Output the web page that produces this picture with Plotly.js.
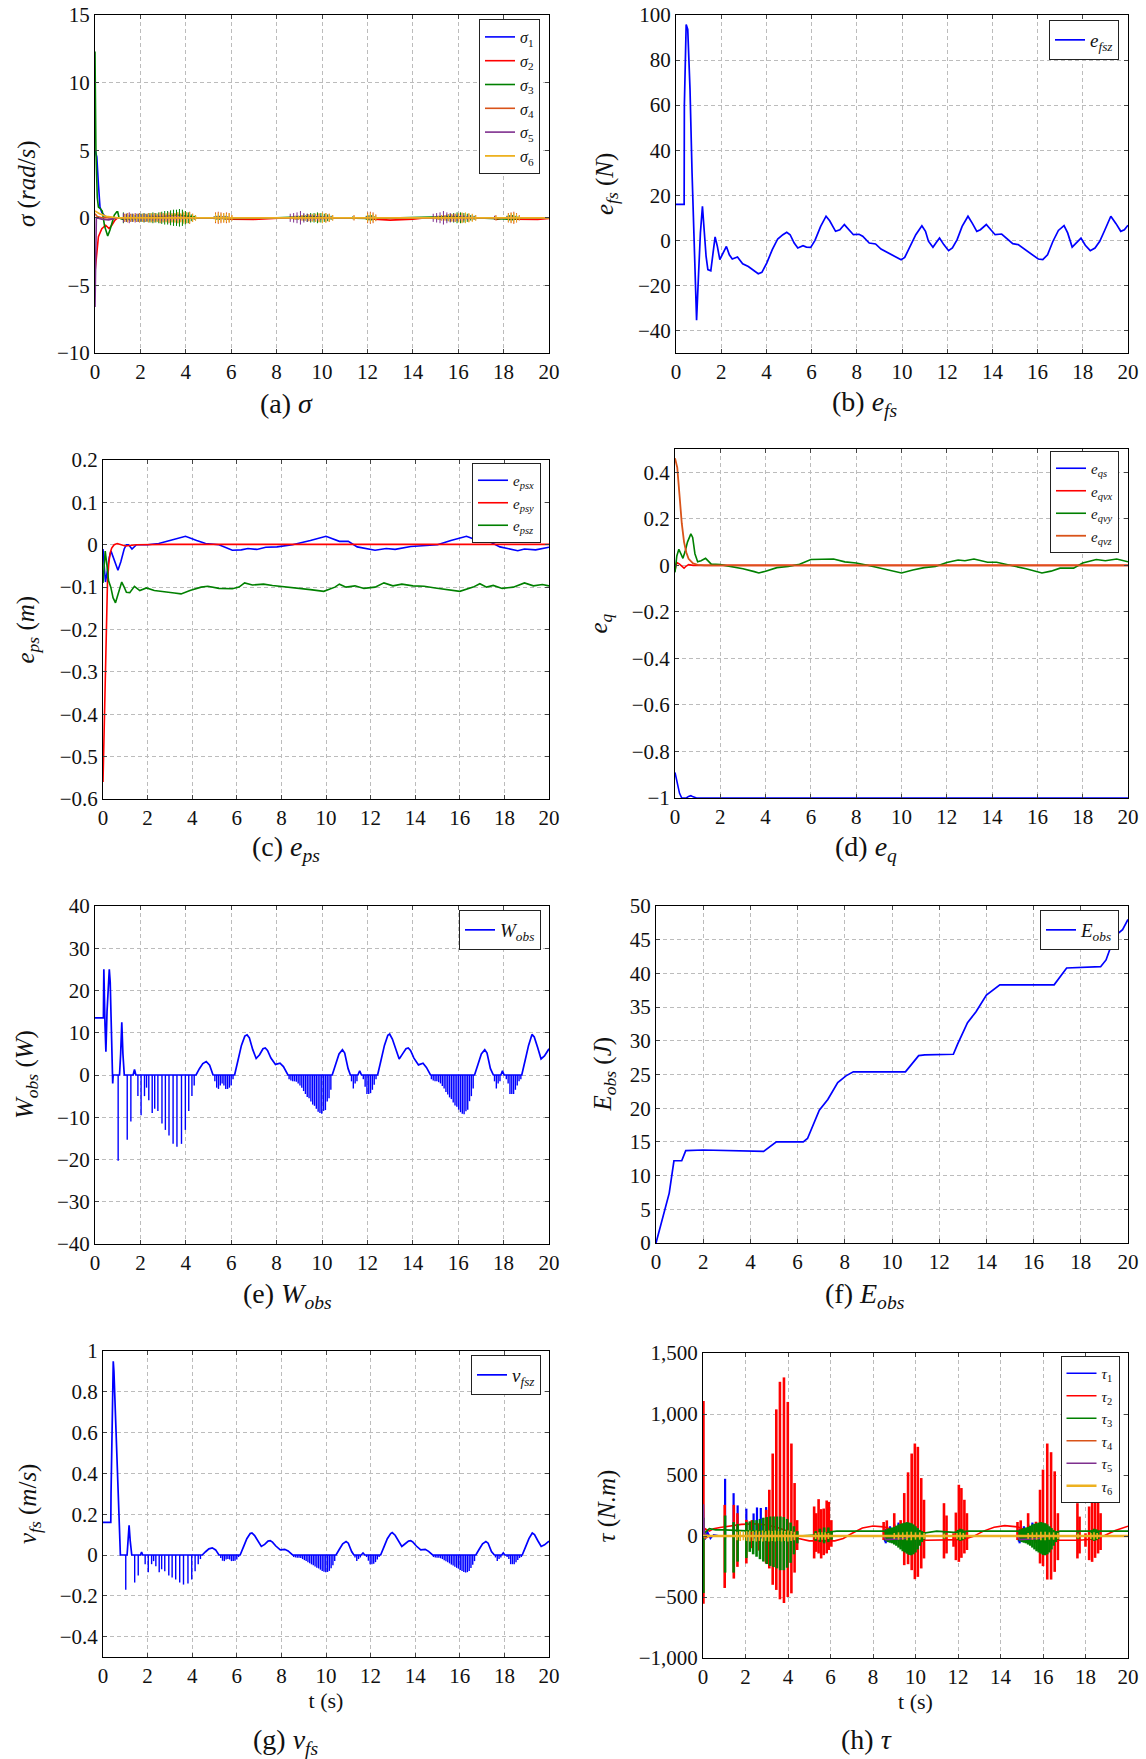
<!DOCTYPE html>
<html>
<head>
<meta charset="utf-8">
<script src="https://cdn.plot.ly/plotly-3.0.1.min.js"></script>
<style>html,body{margin:0;padding:0;background:#fff;}#chart{width:1146px;height:1759px;}</style>
</head>
<body>
<div id="chart"></div>
<script>
// ---------------- DATA ----------------
// (a) sigma : base curves [t, value]
const sigma1 = [[0,5.0],[0.08,4.5],[0.15,2.5],[0.22,0.8],[0.3,0.4],[0.45,0.1],[0.6,0],[20,0]];
const sigma2 = [[0,-4.0],[0.05,-3.0],[0.1,-2.0],[0.15,-1.4],[0.3,-0.8],[0.47,-0.55],[0.62,-0.8],[0.74,-0.55],[0.88,-0.17],[1.0,0],[5.5,0],[6.0,-0.1],[7.0,-0.12],[8.0,-0.05],[8.5,0],[11.8,0],[12.3,-0.1],[13,-0.17],[14,-0.1],[14.6,0],[17.5,0],[17.7,-0.12],[18.0,0],[18.5,-0.1],[19.5,-0.12],[20,-0.05]];
const sigma3 = [[0,12.3],[0.04,5],[0.1,1.5],[0.15,0.8],[0.22,0.7],[0.32,0.5],[0.42,-0.6],[0.56,-1.35],[0.66,-0.9],[0.74,-0.4],[0.85,0.2],[0.96,0.45],[1.0,0.45],[1.06,0],[1.2,-0.1],[3.0,0.1],[3.6,0.2],[4.2,0.1],[4.5,0],[6,-0.05],[8,0],[9.5,0.1],[10.4,0],[12,-0.05],[14,0],[15.8,0.1],[16.6,0],[18.3,-0.1],[19,0],[20,0]];
const sigma4 = [[0,0.3],[0.1,0.1],[0.3,0],[20,0]];
const sigma5 = [[0,-6.6],[0.03,-3],[0.06,0],[0.3,-0.1],[0.6,-0.15],[1.0,0],[20,0]];
const sigma6 = [[0,0.5],[0.2,0.3],[0.5,0.1],[1.0,0],[20,0]];
// sigma chattering: times and half-amplitudes
const sigChatT = [1.25,1.38,1.51,1.64,1.77,1.9,2.03,2.16,2.29,2.42,2.55,2.68,2.81,2.94,3.07,3.2,3.33,3.46,3.59,3.72,3.85,3.98,4.11,4.24,4.37, 5.25,5.37,5.49,5.61,5.73,5.85,5.97, 8.6,8.75,8.9,9.05,9.2,9.35,9.5,9.65,9.8,9.95,10.1,10.25,10.4, 11.35,11.95,12.07,12.19,12.31, 14.9,15.05,15.2,15.35,15.5,15.65,15.8,15.95,16.1,16.25,16.4,16.55,16.7, 17.6,18.15,18.27,18.39,18.51,18.63];
const sigChatT2 = [1.31,1.44,1.57,1.7,1.83,1.96,2.09,2.22,2.35,2.48,2.61,2.74,2.87,3.0,3.13,3.26,3.39,3.52,3.65,3.78,3.91,4.04,4.17,4.3,4.43, 5.31,5.43,5.55,5.67,5.79,5.91,6.03, 8.67,8.82,8.97,9.12,9.27,9.42,9.57,9.72,9.87,10.02,10.17,10.32,10.47, 11.41,12.01,12.13,12.25,12.37, 14.97,15.12,15.27,15.42,15.57,15.72,15.87,16.02,16.17,16.32,16.47,16.62,16.77, 17.66,18.21,18.33,18.45,18.57,18.69];
const s3Amp = [0.4,0.3,0.2,0.3,0.2,0.3,0.3,0.35,0.3,0.35,0.4,0.35,0.4,0.45,0.5,0.5,0.55,0.6,0.6,0.65,0.6,0.5,0.4,0.25,0.15, 0.1,0.15,0.15,0.1,0.15,0.1,0.05, 0.1,0.15,0.15,0.2,0.25,0.3,0.35,0.35,0.4,0.35,0.3,0.25,0.15, 0.1,0.15,0.2,0.2,0.1, 0.1,0.15,0.15,0.2,0.25,0.3,0.35,0.4,0.4,0.35,0.3,0.2,0.15, 0.1,0.15,0.2,0.2,0.15,0.1];
const s4Amp = [0.3,0.35,0.3,0.25,0.3,0.35,0.3,0.3,0.35,0.3,0.35,0.3,0.4,0.35,0.3,0.4,0.35,0.35,0.4,0.3,0.35,0.4,0.45,0.3,0.2, 0.4,0.45,0.4,0.35,0.4,0.35,0.2, 0.1,0.15,0.15,0.2,0.2,0.25,0.25,0.3,0.3,0.35,0.35,0.3,0.2, 0.2,0.4,0.45,0.4,0.25, 0.1,0.15,0.2,0.2,0.25,0.25,0.3,0.3,0.35,0.35,0.3,0.25,0.2, 0.2,0.35,0.4,0.45,0.35,0.2];
const s5Amp = [0.35,0.3,0.4,0.3,0.35,0.3,0.25,0.3,0.25,0.2,0.25,0.2,0.2,0.25,0.2,0.2,0.2,0.15,0.2,0.15,0.15,0.1,0.1,0.05,0.05, 0.1,0.1,0.1,0.1,0.1,0.1,0.05, 0.3,0.35,0.4,0.5,0.35,0.3,0.25,0.2,0.2,0.15,0.15,0.1,0.1, 0.05,0.1,0.1,0.1,0.05, 0.3,0.35,0.4,0.5,0.4,0.35,0.3,0.25,0.2,0.2,0.15,0.1,0.1, 0.15,0.1,0.1,0.1,0.05,0.05];
const s6Amp = [0.25,0.3,0.2,0.3,0.25,0.3,0.3,0.25,0.3,0.35,0.3,0.3,0.35,0.3,0.35,0.3,0.3,0.35,0.4,0.35,0.45,0.4,0.4,0.3,0.2, 0.3,0.35,0.3,0.35,0.3,0.35,0.2, 0.1,0.15,0.15,0.2,0.2,0.25,0.3,0.3,0.35,0.4,0.35,0.3,0.2, 0.15,0.3,0.35,0.3,0.2, 0.1,0.15,0.2,0.2,0.25,0.3,0.3,0.35,0.4,0.4,0.35,0.3,0.2, 0.15,0.3,0.35,0.35,0.3,0.15];

// (b) e_fsz
const efsz = [[0,16],[0.36,16],[0.37,60],[0.42,90],[0.45,95.8],[0.52,93.6],[0.62,67],[0.71,30],[0.81,-8.6],[0.91,-35.5],[1.0,-14.5],[1.08,3.3],[1.17,15.1],[1.23,6.2],[1.33,-7],[1.41,-13],[1.54,-13.5],[1.64,-5.6],[1.73,1.5],[1.83,-2.7],[1.94,-8.6],[2.07,-5.9],[2.23,-2.7],[2.36,-6.4],[2.49,-8.3],[2.72,-7.4],[2.95,-10.4],[3.2,-11.6],[3.43,-13.3],[3.64,-14.8],[3.8,-14.2],[4.02,-10],[4.26,-4.1],[4.5,0.6],[4.73,2.5],[4.9,3.6],[5.05,2.5],[5.23,-1.2],[5.39,-3.4],[5.62,-2.4],[5.77,-3],[5.96,-3.1],[6.15,0],[6.4,6.2],[6.64,10.7],[6.8,8.7],[7.06,4],[7.25,4.7],[7.45,7],[7.64,4.7],[7.85,2.5],[8.1,2.7],[8.26,1.8],[8.55,-1.2],[8.83,-1.6],[9.07,-3.9],[9.39,-5.6],[9.72,-7.4],[9.96,-8.6],[10.12,-7.6],[10.36,-2.7],[10.61,2.5],[10.88,6.5],[11.04,4],[11.17,-0.4],[11.37,-3.1],[11.5,-1.2],[11.66,1],[11.85,-1.9],[12.06,-4.6],[12.23,-3.4],[12.44,0.3],[12.66,6.2],[12.92,10.7],[13.12,7.4],[13.31,4],[13.47,4.7],[13.73,7],[13.93,4.7],[14.12,2.5],[14.41,2.8],[14.66,0.6],[14.9,-1.5],[15.14,-1.9],[15.47,-4.4],[15.79,-6.8],[16.03,-8.3],[16.23,-8.6],[16.44,-6.4],[16.68,-0.4],[16.92,4.4],[17.17,6.5],[17.33,3.3],[17.53,-3],[17.7,-1.2],[17.92,1],[18.11,-2.2],[18.33,-4.6],[18.54,-3.4],[18.75,-0.4],[18.98,4.7],[19.24,10.7],[19.47,7.4],[19.68,4],[19.84,4.7],[20,6.7]];

// (c) e_ps
const epsx = [[0,-0.01],[0.05,-0.05],[0.11,-0.088],[0.2,-0.06],[0.28,-0.03],[0.36,-0.015],[0.5,-0.035],[0.67,-0.06],[0.8,-0.04],[0.95,-0.01],[1.05,0],[1.15,0],[1.3,-0.01],[1.5,0],[2.0,0],[2.5,0.003],[3.0,0.01],[3.7,0.02],[4.2,0.01],[4.6,0.003],[5.2,0],[5.8,-0.013],[6.2,-0.012],[6.5,-0.009],[6.9,-0.011],[7.3,-0.006],[7.8,-0.005],[8.5,0],[9.3,0.01],[10.0,0.02],[10.6,0.008],[11.0,0.008],[11.4,-0.005],[12.2,-0.013],[12.7,-0.009],[13.1,-0.011],[13.8,-0.004],[14.3,-0.003],[15.0,0],[15.6,0.01],[16.3,0.02],[16.9,0.008],[17.3,0.008],[17.8,-0.005],[18.6,-0.014],[18.9,-0.01],[19.4,-0.012],[20,-0.006]];
const epsy = [[0,-0.56],[0.05,-0.42],[0.1,-0.28],[0.15,-0.17],[0.2,-0.09],[0.26,-0.043],[0.32,-0.02],[0.39,-0.008],[0.5,0],[0.64,0.003],[0.8,0.001],[1.0,-0.003],[1.5,0],[3.0,0.001],[20,0.001]];
const epsz = [[0,-0.09],[0.05,-0.04],[0.1,-0.015],[0.18,-0.05],[0.25,-0.085],[0.35,-0.1],[0.45,-0.125],[0.56,-0.137],[0.7,-0.11],[0.84,-0.088],[0.95,-0.1],[1.05,-0.112],[1.2,-0.113],[1.41,-0.098],[1.65,-0.108],[1.95,-0.102],[2.3,-0.108],[2.7,-0.11],[3.2,-0.114],[3.5,-0.116],[3.9,-0.108],[4.4,-0.1],[4.7,-0.098],[5.2,-0.103],[5.8,-0.104],[6.1,-0.1],[6.35,-0.09],[6.7,-0.095],[7.2,-0.093],[7.6,-0.096],[8.0,-0.098],[8.6,-0.102],[9.3,-0.106],[9.9,-0.11],[10.4,-0.1],[10.6,-0.093],[10.9,-0.1],[11.3,-0.097],[11.7,-0.103],[12.2,-0.1],[12.6,-0.09],[13.0,-0.097],[13.4,-0.093],[13.9,-0.097],[14.4,-0.098],[14.9,-0.102],[15.5,-0.106],[16.0,-0.11],[16.6,-0.1],[16.9,-0.092],[17.2,-0.1],[17.5,-0.096],[17.9,-0.103],[18.4,-0.1],[18.9,-0.09],[19.3,-0.097],[19.7,-0.094],[20,-0.097]];

// (d) e_q
const eqs = [[0,-0.89],[0.1,-0.93],[0.2,-0.98],[0.3,-1.0],[0.5,-1.0],[0.6,-0.993],[0.7,-0.99],[0.8,-0.995],[0.95,-1.0],[20,-1.0]];
const eqvx = [[0,-0.02],[0.08,0.012],[0.2,0.005],[0.3,-0.005],[0.4,-0.012],[0.5,-0.003],[0.6,0.003],[0.8,0],[20,0]];
const eqvy = [[0,-0.03],[0.08,0.04],[0.17,0.069],[0.25,0.05],[0.35,0.03],[0.45,0.06],[0.55,0.1],[0.7,0.135],[0.78,0.12],[0.88,0.05],[1.0,0.015],[1.15,0.02],[1.35,0.03],[1.45,0.02],[1.6,0.005],[2.0,0.003],[2.5,-0.005],[3.0,-0.015],[3.5,-0.027],[3.7,-0.033],[4.0,-0.025],[4.5,-0.01],[5.0,-0.005],[5.5,0.005],[6.0,0.025],[6.5,0.025],[7.0,0.027],[7.5,0.015],[8.0,0.01],[8.5,0],[9.0,-0.01],[9.5,-0.022],[10.0,-0.033],[10.5,-0.02],[11.0,-0.01],[11.5,-0.005],[12.0,0.012],[12.5,0.023],[12.8,0.02],[13.2,0.027],[13.8,0.013],[14.2,0.013],[15.0,-0.003],[15.5,-0.015],[16.2,-0.033],[16.6,-0.025],[17.0,-0.012],[17.6,-0.012],[18.0,0.01],[18.6,0.025],[19.0,0.02],[19.5,0.027],[20,0.015]];
const eqvz = [[0,0.46],[0.1,0.42],[0.2,0.3],[0.3,0.18],[0.4,0.1],[0.5,0.055],[0.6,0.028],[0.8,0.008],[1.0,0.002],[1.3,0],[20,0]];

// (e) W_obs smooth part and (g) v_fsz smooth part
const wBase = [[0,13.5],[0.37,13.5],[0.38,20],[0.39,25],[0.44,12],[0.48,5.5],[0.53,15],[0.6,24],[0.63,25],[0.67,22],[0.72,10],[0.76,0],[0.78,-2],[0.8,0],[1.08,0],[1.13,5],[1.18,12.5],[1.23,5],[1.29,0],[1.68,0],[1.74,1.3],[1.8,0],[4.45,0],[4.6,1.5],[4.75,2.7],[4.9,3.2],[5.05,2.3],[5.2,0],[6.15,0],[6.3,3.5],[6.45,7],[6.6,9.2],[6.7,9.5],[6.8,8.8],[6.95,6],[7.1,3.9],[7.25,4.8],[7.4,6.2],[7.5,6.4],[7.6,5.8],[7.75,4],[7.95,2.5],[8.15,2.8],[8.3,2],[8.5,0],[10.45,0],[10.6,2.5],[10.75,5],[10.9,6],[11.0,5.2],[11.15,1.5],[11.25,0],[11.58,0],[11.66,1.0],[11.74,0],[12.45,0],[12.6,3.5],[12.75,7],[12.9,9.4],[12.98,9.7],[13.1,8.5],[13.25,6],[13.4,3.8],[13.55,5],[13.7,6.2],[13.8,6.4],[13.9,5.8],[14.05,4],[14.25,2.4],[14.45,2.8],[14.6,1.8],[14.78,0],[16.72,0],[16.87,2.5],[17.02,5],[17.17,6],[17.27,5.2],[17.42,1.5],[17.55,0],[17.88,0],[17.95,1.0],[18.02,0],[18.8,0],[18.95,3.5],[19.1,7],[19.25,9.6],[19.35,9],[19.5,6.5],[19.65,3.8],[19.8,4.5],[20,6.2]];
const vBase = [[0,0.16],[0.35,0.16],[0.36,0.3],[0.42,0.88],[0.46,0.95],[0.49,0.9],[0.55,0.7],[0.62,0.45],[0.7,0.2],[0.78,0],[1.08,0],[1.13,0.07],[1.17,0.146],[1.22,0.07],[1.29,0],[1.68,0],[1.73,0.015],[1.78,0],[4.45,0],[4.6,0.016],[4.75,0.03],[4.9,0.035],[5.05,0.025],[5.2,0],[6.15,0],[6.3,0.04],[6.45,0.08],[6.6,0.105],[6.68,0.108],[6.8,0.095],[6.95,0.065],[7.1,0.042],[7.25,0.052],[7.4,0.068],[7.5,0.07],[7.6,0.063],[7.75,0.044],[7.95,0.025],[8.15,0.028],[8.3,0.02],[8.5,0],[10.45,0],[10.6,0.028],[10.75,0.055],[10.9,0.066],[11.0,0.058],[11.15,0.017],[11.25,0],[11.58,0],[11.66,0.01],[11.74,0],[12.45,0],[12.6,0.04],[12.75,0.08],[12.9,0.105],[12.97,0.11],[13.1,0.097],[13.25,0.066],[13.4,0.042],[13.55,0.055],[13.7,0.068],[13.8,0.07],[13.9,0.063],[14.05,0.044],[14.25,0.025],[14.45,0.028],[14.6,0.018],[14.78,0],[16.72,0],[16.87,0.028],[17.02,0.055],[17.17,0.066],[17.27,0.058],[17.42,0.017],[17.55,0],[17.88,0],[17.95,0.01],[18.02,0],[18.8,0],[18.95,0.04],[19.1,0.08],[19.25,0.108],[19.35,0.1],[19.5,0.07],[19.65,0.042],[19.8,0.05],[20,0.068]];
// negative chattering drops (shared instants)
const dropT = [1.02,1.42,1.58,1.89,2.03,2.18,2.27,2.37,2.52,2.63,2.77,2.95,3.1,3.26,3.44,3.61,3.81,3.98,4.13,4.27,4.37, 5.28,5.36,5.44,5.52,5.6,5.68,5.76,5.84,5.92,6.0,6.08, 8.55,8.63,8.71,8.79,8.87,8.95,9.03,9.11,9.19,9.27,9.35,9.43,9.51,9.59,9.67,9.75,9.83,9.91,9.99,10.07,10.15,10.23,10.31,10.39, 11.3,11.38,11.46,11.54, 11.82,11.9,11.98,12.06,12.14,12.22,12.3,12.38, 14.82,14.9,14.98,15.06,15.14,15.22,15.3,15.38,15.46,15.54,15.62,15.7,15.78,15.86,15.94,16.02,16.1,16.18,16.26,16.34,16.42,16.5,16.58,16.66, 17.6,17.68,17.76,17.84, 18.12,18.2,18.28,18.36,18.44,18.52,18.6,18.68,18.76];
const wDrop = [-20.3,-15.3,-11,-5,-9.5,-5,-3,-6,-9,-8,-8.5,-11.5,-13,-14.3,-16.3,-17,-16.3,-13,-8.5,-5,-2.5, -1.5,-3,-3.3,-2.5,-2,-2.5,-3.3,-3.3,-3,-2.5,-1, -1,-1.3,-1.5,-1.5,-1.6,-2,-2.5,-3,-3.8,-4.5,-5.2,-5.5,-6.3,-7,-7.3,-8,-8.7,-9,-9.2,-8.5,-8.3,-6.3,-5.5,-3.5, -1.5,-3.2,-2,-1.5, -1,-2.8,-4.5,-4.5,-4.3,-3.5,-2.3,-1, -1,-1.3,-1.5,-1.5,-1.7,-2,-2.6,-3.2,-4,-4.6,-5.3,-5.7,-6.5,-7.2,-7.5,-8.2,-8.8,-9.2,-9.3,-8.6,-8.2,-6.2,-5,-3.2, -1.5,-3.2,-2,-1.5, -1,-2,-4.5,-4.5,-4.5,-3.5,-2.5,-1.5,-1];
const vDrop = [-0.17,-0.135,-0.1,-0.045,-0.085,-0.045,-0.03,-0.055,-0.085,-0.07,-0.08,-0.1,-0.11,-0.12,-0.135,-0.145,-0.14,-0.12,-0.08,-0.045,-0.02, -0.015,-0.028,-0.03,-0.022,-0.02,-0.022,-0.03,-0.03,-0.028,-0.022,-0.01, -0.01,-0.012,-0.013,-0.013,-0.015,-0.02,-0.025,-0.03,-0.035,-0.04,-0.046,-0.05,-0.056,-0.062,-0.066,-0.072,-0.078,-0.082,-0.085,-0.083,-0.078,-0.065,-0.05,-0.03, -0.012,-0.03,-0.02,-0.012, -0.01,-0.028,-0.045,-0.045,-0.043,-0.035,-0.022,-0.01, -0.01,-0.012,-0.013,-0.014,-0.016,-0.02,-0.026,-0.031,-0.036,-0.041,-0.047,-0.051,-0.057,-0.063,-0.067,-0.073,-0.079,-0.083,-0.086,-0.084,-0.078,-0.064,-0.048,-0.03, -0.012,-0.03,-0.02,-0.012, -0.01,-0.02,-0.045,-0.045,-0.045,-0.035,-0.025,-0.015,-0.01];

// (f) E_obs
const eobs = [[0,0],[0.3,4],[0.56,7.4],[0.76,12.2],[1.09,12.2],[1.26,13.7],[2,13.8],[4.56,13.6],[5.1,15],[6.24,15],[6.42,15.5],[6.92,19.7],[7.28,21.3],[7.7,23.8],[8.05,24.8],[8.36,25.4],[10.57,25.4],[11.13,27.8],[11.39,27.9],[12.6,28.0],[12.78,29.5],[13.2,32.7],[13.56,34.3],[14.0,36.8],[14.57,38.3],[16.87,38.3],[17.4,40.8],[18.84,41],[19.07,42],[19.43,45.5],[19.77,46.5],[20,48]];

// (h) tau : smooth parts
const tau1 = [[0,0],[0.03,60],[0.1,-30],[0.2,40],[0.35,-20],[0.5,10],[0.8,0],[8.5,0],[8.55,-40],[9.5,-20],[9.7,0],[14.8,0],[14.85,-40],[15.8,-20],[16,0],[20,0]];
const tau2 = [[0,0],[0.1,60],[0.3,40],[0.5,60],[0.8,70],[1.2,80],[1.8,95],[2.5,100],[3.0,90],[3.5,70],[4.0,40],[4.5,-20],[5.0,-40],[6.2,-40],[6.6,-20],[7.0,20],[7.5,65],[8.0,82],[8.5,75],[9.0,50],[9.5,10],[10.0,-25],[10.5,-35],[11.5,-35],[12.2,-30],[12.7,-5],[13.2,40],[13.7,72],[14.2,85],[14.8,75],[15.3,40],[15.8,0],[16.3,-30],[16.8,-35],[17.7,-35],[18.4,-25],[18.9,5],[19.4,45],[20,80]];
const tau3 = [[0,0],[0.1,30],[0.3,60],[0.6,50],[1.0,50],[2.0,45],[3.0,35],[4.0,20],[4.5,0],[5.5,10],[6.0,35],[6.3,40],[8.5,40],[9.5,0],[10.5,30],[11.0,40],[11.8,30],[12.5,40],[14.8,40],[15.8,0],[16.8,40],[20,40]];
const tau4 = [[0,30],[0.1,-20],[0.3,0],[20,0]];
const tau5 = [[0,0],[0.02,260],[0.06,20],[0.3,0],[8.5,0],[8.6,-30],[9.5,-20],[9.8,0],[14.8,0],[14.9,-30],[15.8,-20],[16.1,0],[20,0]];
const tau6 = [[0,0],[20,0]];
// tau chattering bursts: instant, top, bottom
const tau1BT = [1.04,1.44,1.63,2.04,2.38,2.54,2.72,2.97, 8.6,8.8,9.0,9.2,9.4, 14.9,15.1,15.3,15.5,15.7];
const tau1Hi = [469,351,251,224,185,234,230,237, 60,80,100,110,90, 60,80,100,110,90];
const tau1Lo = [-20,-20,-20,-30,-20,-20,-20,-20, -60,-50,-50,-40,-30, -60,-50,-50,-40,-30];
const tau2BT = [0.02,1.02,1.45,1.62,2.04,2.3,2.64,2.97,3.12,3.28,3.45,3.62,3.81,3.99,4.16,4.31,4.43, 5.23,5.33,5.44,5.56,5.68,5.82,5.92,6.04, 8.5,8.65,9.0,9.3,9.47,9.65,9.82,9.97,10.11,10.27,10.4, 11.34,11.46,11.79,11.9,12.04,12.16,12.3,12.42, 14.8,14.95,15.3,15.67,15.86,16.0,16.2,16.38,16.55,16.7, 17.62,17.72,18.0,18.17,18.31,18.45,18.59,18.71];
const tau2Hi = [1107,255,255,187,132,130,100,214,379,676,1038,1264,1300,1099,758,434,130, 242,187,302,220,225,291,280,130, 115,128,187,130,352,522,676,758,731,475,297, 269,168,22,192,420,393,297,187, 115,128,187,117,379,544,758,687,530,187, 269,159,22,242,418,387,297,187];
const tau2Lo = [-555,-426,-349,-253,-225,-100,-120,-225,-266,-400,-442,-519,-549,-500,-470,-300,-115, -184,-130,-143,-184,-157,-143,-115,-88, -33,-35,-60,-80,-239,-231,-280,-354,-335,-266,-184, -184,-143,-88,-198,-212,-179,-143,-115, -33,-35,-60,-60,-225,-247,-357,-357,-294,-198, -184,-143,-88,-198,-212,-179,-143,-115];
const tau3BT = [0.02,1.04,1.44,1.63, 2.04,2.2,2.36,2.52,2.68,2.84,3.0,3.16,3.32,3.48,3.64,3.8,3.96,4.12,4.28,4.44, 5.3,5.5,5.7,5.9,6.05, 8.6,8.7,8.8,8.9,9.0,9.1,9.2,9.3,9.4,9.5,9.6,9.7,9.8,9.9,10.0,10.1,10.2,10.3,10.4, 11.35,12.0,12.1,12.2,12.3, 14.9,15.0,15.1,15.2,15.3,15.4,15.5,15.6,15.7,15.8,15.9,16.0,16.1,16.2,16.3,16.4,16.5,16.6,16.7, 17.65,18.3,18.4,18.5,18.6];
const tau3Hi = [150,168,114,98, 114,120,130,130,140,150,155,160,160,160,160,155,140,110,80,40, 40,60,70,70,40, 50,60,65,70,75,85,95,100,105,110,114,110,105,95,80,65,50,40,30, 30,50,60,55,40, 50,60,65,70,75,85,95,100,105,110,114,110,105,95,80,65,50,40,30, 30,50,60,55,40];
const tau3Lo = [-468,-300,-300,-210, -180,-130,-150,-170,-190,-210,-230,-245,-255,-265,-280,-280,-260,-220,-150,-60, -40,-50,-60,-50,-30, -40,-50,-55,-60,-70,-80,-95,-110,-125,-135,-145,-155,-158,-150,-135,-110,-80,-50,-30, -25,-30,-40,-35,-25, -40,-50,-55,-60,-70,-80,-95,-110,-125,-135,-145,-155,-158,-150,-135,-110,-80,-50,-30, -25,-30,-40,-35,-25];
const tau6BT = [1.6,1.75,1.9,2.05,2.2,2.35,2.5,2.65,2.8,2.95,3.1,3.25,3.4,3.55,3.7,3.85,4.0,4.15,4.3, 5.3,5.45,5.6,5.75,5.9, 9.0,9.2,9.4,9.6,9.8,10.0,10.2,10.4, 11.35,11.95,12.1,12.25, 15.3,15.5,15.7,15.9,16.1,16.3,16.5,16.7, 17.65,18.25,18.4,18.55];
const tau6Amp = [35,40,35,40,45,40,45,40,45,40,45,40,45,40,45,40,45,40,35, 25,30,30,30,25, 25,30,30,35,35,30,30,25, 20,25,30,25, 25,30,30,35,35,30,30,25, 20,25,30,25];

// tick / label text
const tickT = [0,2,4,6,8,10,12,14,16,18,20];
const captions = ['(a) <i>σ</i>','(b) <i>e<sub>fs</sub></i>','(c) <i>e<sub>ps</sub></i>','(d) <i>e<sub>q</sub></i>','(e) <i>W<sub>obs</sub></i>','(f) <i>E<sub>obs</sub></i>','(g) <i>v<sub>fs</sub></i>','(h) <i>τ</i>'];
const yTitles = ['<i>σ</i> (<i>rad</i>/<i>s</i>)','<i>e<sub>fs</sub></i> (<i>N</i>)','<i>e<sub>ps</sub></i> (<i>m</i>)','<i>e<sub>q</sub></i>','<i>W<sub>obs</sub></i> (<i>W</i>)','<i>E<sub>obs</sub></i> (<i>J</i>)','<i>v<sub>fs</sub></i> (<i>m</i>/<i>s</i>)','<i>τ</i> (<i>N.m</i>)'];

// ---------------- LAYOUT GEOMETRY ----------------
const W = 1146, H = 1759;
const boxes = [[95,549,15,353],[676,1128,15,353],[103,549,460,799],[675,1128,449,798],[95,549,906,1244],[656,1128,906,1243],[103,549,1351,1657],[703,1128,1353,1658]];
const yRanges = [[-10,15],[-50,100],[-0.6,0.2],[-1,0.5],[-40,40],[0,50],[-0.5,1],[-1000,1500]];
const yDticks = [5,20,0.1,0.2,10,5,0.2,500];
const legPos = [[540,19],[1119,20],[541,463],[1119,451],[541,910],[1119,910],[541,1355],[1119.5,1356]];
const legSize = [16,19,15,15,19,19,19,15];
const capPos = [[286,403],[865,403],[286,848],[866,848],[287,1295],[865,1295],[286,1741],[866,1739]];
const yTitleX = [27,606,27,600,26,604,29,606];

const C = {blue:'#0000ff', red:'#ff0000', green:'#008000', orange:'#d95319', purple:'#7e2f8e', yellow:'#edb120'};

// ---------------- TRACE HELPERS ----------------
function sfx(p){ return p === 1 ? '' : String(p); }
function curve(p, pairs, color, width, name){
  return {type:'scatter', mode:'lines', x:pairs.map(d=>d[0]), y:pairs.map(d=>d[1]),
    xaxis:'x'+sfx(p), yaxis:'y'+sfx(p), legend:'legend'+sfx(p),
    line:{color:color, width:width}, name:name||'', showlegend:!!name, hoverinfo:'skip'};
}
function bars(p, ts, hi, lo, color, width){
  const x=[], y=[];
  ts.forEach((t,i)=>{ x.push(t,t,null); y.push(hi[i],lo[i],null); });
  return {type:'scatter', mode:'lines', x:x, y:y, xaxis:'x'+sfx(p), yaxis:'y'+sfx(p),
    legend:'legend'+sfx(p), line:{color:color, width:width}, showlegend:false, hoverinfo:'skip'};
}
function sym(amp, sign){ return amp.map(a=>sign*a); }
function zeros(ts){ return ts.map(()=>0); }

const traces = [];
// (a)
traces.push(curve(1, sigma1, C.blue, 1.6, '<i>σ</i><sub>1</sub>'));
traces.push(curve(1, sigma2, C.red, 1.6, '<i>σ</i><sub>2</sub>'));
traces.push(bars(1, sigChatT, sym(s3Amp,1), sym(s3Amp,-1), C.green, 1.0));
traces.push(curve(1, sigma3, C.green, 1.6, '<i>σ</i><sub>3</sub>'));
traces.push(bars(1, sigChatT2, sym(s4Amp,1), sym(s4Amp,-1), C.orange, 1.0));
traces.push(curve(1, sigma4, C.orange, 1.6, '<i>σ</i><sub>4</sub>'));
traces.push(bars(1, sigChatT, sym(s5Amp,1), sym(s5Amp,-1), C.purple, 1.0));
traces.push(curve(1, sigma5, C.purple, 1.6, '<i>σ</i><sub>5</sub>'));
traces.push(bars(1, sigChatT2, sym(s6Amp,1), sym(s6Amp,-1), C.yellow, 1.0));
traces.push(curve(1, sigma6, C.yellow, 1.8, '<i>σ</i><sub>6</sub>'));
// (b)
traces.push(curve(2, efsz, C.blue, 1.7, '<i>e<sub>fsz</sub></i>'));
// (c)
traces.push(curve(3, epsx, C.blue, 1.6, '<i>e<sub>psx</sub></i>'));
traces.push(curve(3, epsy, C.red, 1.6, '<i>e<sub>psy</sub></i>'));
traces.push(curve(3, epsz, C.green, 1.6, '<i>e<sub>psz</sub></i>'));
// (d)
traces.push(curve(4, eqs, C.blue, 1.6, '<i>e<sub>qs</sub></i>'));
traces.push(curve(4, eqvx, C.red, 1.6, '<i>e<sub>qvx</sub></i>'));
traces.push(curve(4, eqvy, C.green, 1.6, '<i>e<sub>qvy</sub></i>'));
traces.push(curve(4, eqvz, C.orange, 1.8, '<i>e<sub>qvz</sub></i>'));
// (e)
traces.push(curve(5, wBase, C.blue, 1.7, '<i>W<sub>obs</sub></i>'));
traces.push(bars(5, dropT, zeros(dropT), wDrop, C.blue, 1.4));
// (f)
traces.push(curve(6, eobs, C.blue, 1.7, '<i>E<sub>obs</sub></i>'));
// (g)
traces.push(curve(7, vBase, C.blue, 1.7, '<i>v<sub>fsz</sub></i>'));
traces.push(bars(7, dropT, zeros(dropT), vDrop, C.blue, 1.4));
// (h)
traces.push(bars(8, tau1BT, tau1Hi, tau1Lo, C.blue, 2.2));
traces.push(curve(8, tau1, C.blue, 1.6, '<i>τ</i><sub>1</sub>'));
traces.push(bars(8, tau2BT, tau2Hi, tau2Lo, C.red, 2.6));
traces.push(curve(8, tau2, C.red, 1.6, '<i>τ</i><sub>2</sub>'));
traces.push(bars(8, tau3BT, tau3Hi, tau3Lo, C.green, 2.6));
traces.push(curve(8, tau3, C.green, 1.6, '<i>τ</i><sub>3</sub>'));
traces.push(curve(8, tau4, C.orange, 1.6, '<i>τ</i><sub>4</sub>'));
traces.push(curve(8, tau5, C.purple, 1.6, '<i>τ</i><sub>5</sub>'));
traces.push(bars(8, tau6BT, sym(tau6Amp,1), sym(tau6Amp,-1), C.yellow, 1.6));
traces.push(curve(8, tau6, C.yellow, 2.6, '<i>τ</i><sub>6</sub>'));

// ---------------- LAYOUT ----------------
const FONT = "'Liberation Serif', 'DejaVu Serif', serif";
const layout = {
  width: W, height: H, margin:{l:0,r:0,t:0,b:0},
  paper_bgcolor:'#ffffff', plot_bgcolor:'#ffffff',
  font:{family:FONT, size:21, color:'#111111'},
  showlegend:true, annotations:[]
};
for (let i=0;i<8;i++){
  const p=i+1, s=sfx(p), b=boxes[i];
  const common = {showgrid:true, gridcolor:'#bcbcbc', griddash:'4px,3px', gridwidth:1,
    zeroline:false, showline:true, linecolor:'#000000', linewidth:1, mirror:'ticks',
    ticks:'inside', ticklen:4, tickcolor:'#444444', tickfont:{family:FONT,size:21,color:'#111111'}, fixedrange:true};
  layout['xaxis'+s] = Object.assign({}, common, {domain:[b[0]/W, b[1]/W], anchor:'y'+s,
    range:[0,20], tickmode:'array', tickvals:tickT, ticktext:tickT.map(String)});
  if (p===7 || p===8) layout['xaxis'+s].title = {text:'t (s)', font:{family:FONT,size:22,color:'#111111'}, standoff:4};
  layout['yaxis'+s] = Object.assign({}, common, {domain:[1-b[3]/H, 1-b[2]/H], anchor:'x'+s,
    range:yRanges[i], tick0:0, dtick:yDticks[i], tickformat: p===8 ? ',' : ''});
  layout['legend'+s] = {x:legPos[i][0]/W, y:1-legPos[i][1]/H, xanchor:'right', yanchor:'top',
    bgcolor:'#ffffff', bordercolor:'#222222', borderwidth:1, font:{family:FONT,size:legSize[i],color:'#111111'},
    itemwidth:30, tracegroupgap:0};
  layout.annotations.push({xref:'paper', yref:'paper', x:capPos[i][0]/W, y:1-capPos[i][1]/H,
    text:captions[i], showarrow:false, xanchor:'center', yanchor:'middle', font:{family:FONT,size:28,color:'#111111'}});
  layout.annotations.push({xref:'paper', yref:'paper', x:yTitleX[i]/W, y:1-((b[2]+b[3])/2)/H,
    text:yTitles[i], textangle:-90, showarrow:false, xanchor:'center', yanchor:'middle', font:{family:FONT,size:25,color:'#111111'}});
}

Plotly.newPlot('chart', traces, layout, {displayModeBar:false, responsive:false});
</script>
</body>
</html>
